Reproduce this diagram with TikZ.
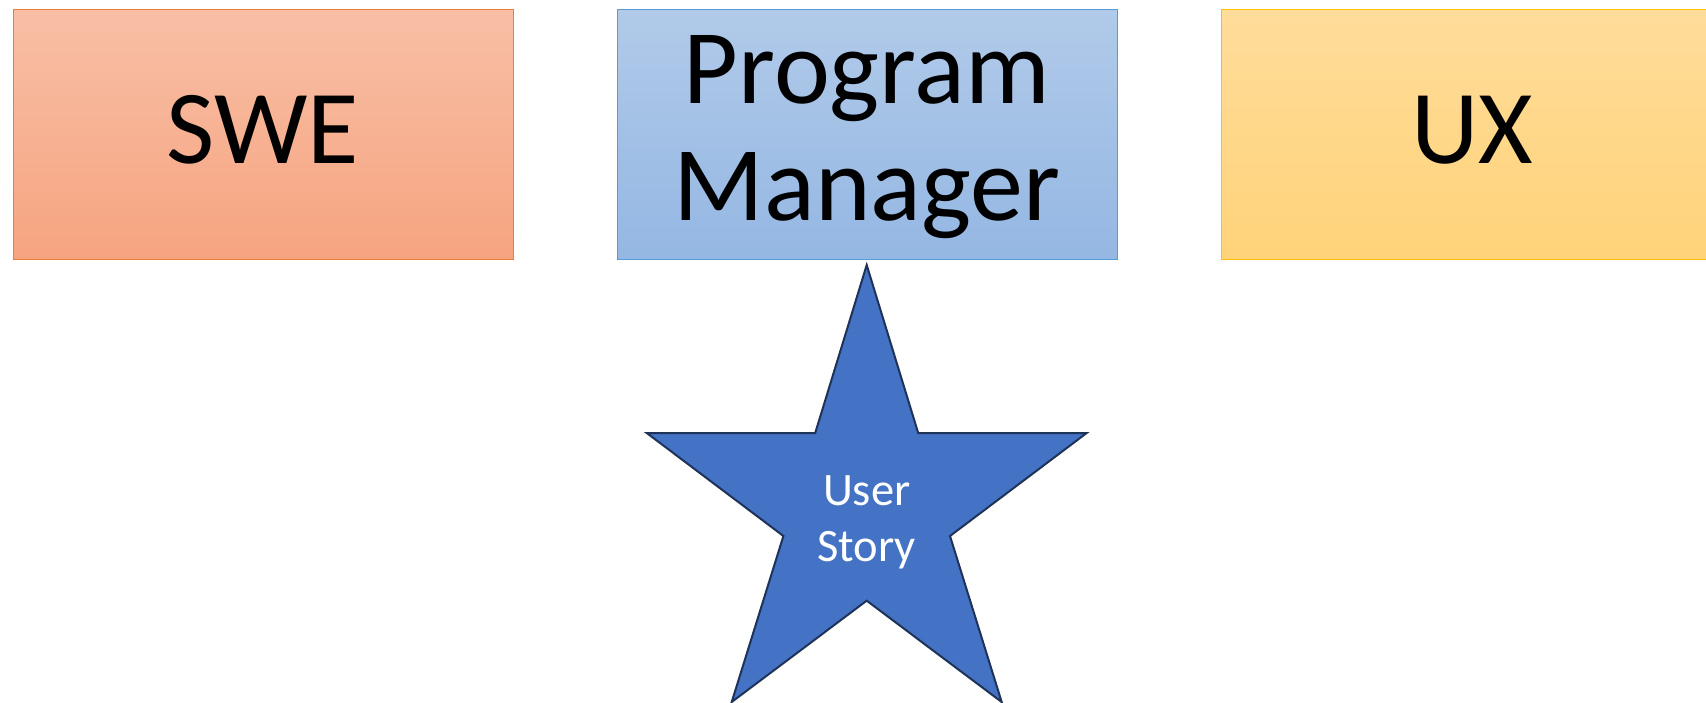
\documentclass[tikz,border=0pt]{standalone}
\usepackage{fontspec}
\setmainfont{Carlito}
\definecolor{swetop}{HTML}{F8BFA6}
\definecolor{swebot}{HTML}{F6A47F}
\definecolor{sweline}{HTML}{ED7D31}
\definecolor{pmtop}{HTML}{B1CAE9}
\definecolor{pmbot}{HTML}{94B7E3}
\definecolor{pmline}{HTML}{5B9BD5}
\definecolor{uxtop}{HTML}{FFDC9A}
\definecolor{uxbot}{HTML}{FFD379}
\definecolor{uxline}{HTML}{FFC000}
\definecolor{starfill}{HTML}{4472C4}
\definecolor{starline}{HTML}{1F3358}
\begin{document}
\begin{tikzpicture}[x=1pt,y=-1pt,
  box/.style={draw, line width=1.2pt, minimum width=499.5pt, minimum height=250pt, inner sep=0pt, anchor=north west},
  bigtext/.style={font=\fontsize{105}{118}\selectfont, anchor=base, inner sep=0pt, text=black},
  startext/.style={font=\fontsize{46.5}{56}\selectfont, anchor=base, inner sep=0pt, text=white}]
\useasboundingbox (0,0) rectangle (1706,703);
\clip (0,0) rectangle (1706,703);
\fill[white] (0,0) rectangle (1706,703);
% boxes
\node[box, draw=sweline, top color=swetop, bottom color=swebot] (swe) at (13,9) {};
\node[box, draw=pmline, top color=pmtop, bottom color=pmbot] (pm) at (617,9) {};
\node[box, draw=uxline, top color=uxtop, bottom color=uxbot] (ux) at (1221,9) {};
% texts
\node[bigtext] (swet) at (262.75,164) {SWE};
\node[bigtext, font=\fontsize{106}{118}\selectfont] (pmt1) at (867,103.5) {Program};
\node[bigtext, font=\fontsize{106}{118}\selectfont] (pmt2) at (867,221) {Manager};
\node[bigtext] (uxt) at (1472,164) {UX};
% star
\coordinate (s1) at (866.7,265);
\coordinate (s2) at (918.2,433);
\coordinate (s3) at (1086.7,433);
\coordinate (s4) at (950,536);
\coordinate (s5) at (1001.7,702);
\coordinate (s6) at (866.7,600.7);
\coordinate (s7) at (731.7,702);
\coordinate (s8) at (783.4,536);
\coordinate (s9) at (646.7,433);
\coordinate (s10) at (815.2,433);
\draw[fill=starfill, draw=starline, line width=2pt, line join=miter]
  (s1) -- (s2) -- (s3) -- (s4) -- (s5) -- (s6) -- (s7) -- (s8) -- (s9) -- (s10) -- cycle;
\node[startext] (us1) at (866.7,505) {User};
\node[startext] (us2) at (866.7,561) {Story};
\end{tikzpicture}
\end{document}
